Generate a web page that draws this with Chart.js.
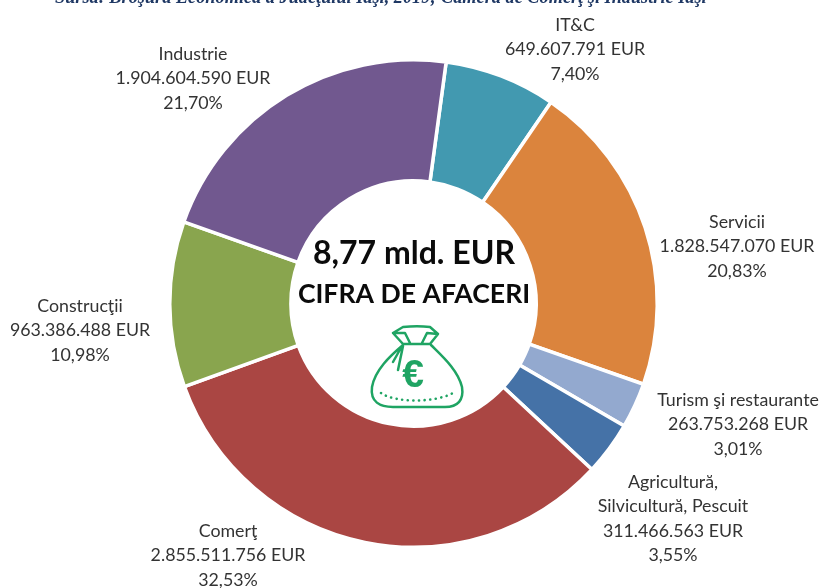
<!DOCTYPE html>
<html><head><meta charset="utf-8">
<style>html,body{margin:0;padding:0;background:#fff;overflow:hidden}canvas{display:block;filter:blur(0.5px)}</style>
<script src="https://cdn.jsdelivr.net/npm/chart.js@4"></script>
</head><body><canvas id="c" width="823" height="588"></canvas>
<script>
const categories = ["IT&C","Servicii","Turism şi restaurante","Agricultură, Silvicultură, Pescuit","Comerţ","Construcţii","Industrie"];
const values = [649607791,1828547070,263753268,311466563,2855511756,963386488,1904604590];
const amounts = ["649.607.791 EUR","1.828.547.070 EUR","263.753.268 EUR","311.466.563 EUR","2.855.511.756 EUR","963.386.488 EUR","1.904.604.590 EUR"];
const percents = ["7,40%","20,83%","3,01%","3,55%","32,53%","10,98%","21,70%"];
const colors = ["#4299B0","#DB843D","#93A9CF","#4572A7","#AA4643","#89A54E","#71588F"];
const labelLines = [["IT&C"],["Servicii"],["Turism şi restaurante"],["Agricultură,","Silvicultură, Pescuit"],["Comerţ"],["Construcţii"],["Industrie"]];
const labelAnchors = [[575,25],[737,222],[738,400],[673,482],[228,531],[80,306],[193,54]];
const sourceText = "Sursa: Broşura Economică a Judeţului Iaşi, 2019; Camera de Comerţ şi Industrie Iaşi";
const centerTitle = "8,77 mld. EUR";
const centerSubtitle = "CIFRA DE AFACERI";

const overlay = {
  id:'overlay',
  afterDraw(chart){
    const g = chart.ctx;
    g.save();
    g.textAlign='center'; g.textBaseline='middle';
    g.fillStyle='#333';
    g.font='17.8px Lato, Carlito, sans-serif';
    categories.forEach((_,i)=>{
      const lines=[...labelLines[i],amounts[i],percents[i]];
      const [x,y]=labelAnchors[i];
      lines.forEach((t,k)=>g.fillText(t,x,y+k*24.4));
    });
    g.fillStyle='#0b0b0b';
    g.font='bold 32px Lato, Carlito, sans-serif';
    g.fillText(centerTitle,414,254);
    g.font='bold 26.6px Lato, Carlito, sans-serif';
    g.fillText(centerSubtitle,414,294);
    g.fillStyle='#1F3864';
    g.font='italic bold 18.3px "Liberation Serif", serif';
    g.textAlign='left'; g.textBaseline='alphabetic';
    g.fillText(sourceText,55,3);
    // money bag icon
    g.translate(290,220);
    g.strokeStyle='#1FA463'; g.fillStyle='#1FA463'; g.lineWidth=2.5; g.lineJoin='round'; g.lineCap='round';
    g.beginPath();
    g.moveTo(103,113); g.lineTo(113,107); g.bezierCurveTo(122,106,132,106,140,107);
    g.lineTo(148,114); g.lineTo(140,124); g.lineTo(113,124); g.closePath();
    g.moveTo(103,113); g.lineTo(115,113); g.lineTo(120,123);
    g.moveTo(148,114); g.lineTo(137,113); g.lineTo(132,123);
    g.moveTo(113,125);
    g.bezierCurveTo(100,136,85,150,82,167);
    g.bezierCurveTo(80,182,90,187,103,187);
    g.lineTo(155,187);
    g.bezierCurveTo(168,187,174,180,172,167);
    g.bezierCurveTo(168,150,152,136,141,125);
    g.moveTo(112,126); g.lineTo(103,142);
    g.moveTo(113,126); g.lineTo(108,150);
    g.stroke();
    g.setLineDash([0.1,5.5]); g.lineWidth=2.6;
    g.beginPath(); g.moveTo(91,173); g.bezierCurveTo(105,183,145,183,163,173); g.stroke(); g.setLineDash([]);
    g.font='bold 39px "Liberation Sans", sans-serif'; g.textAlign='center'; g.textBaseline='middle';
    g.fillText('€',123,156);
    g.restore();
  }
};

new Chart(document.getElementById('c'),{
  type:'doughnut',
  data:{labels:categories,datasets:[{data:values,backgroundColor:colors,borderColor:'#fff',borderWidth:3.5}]},
  options:{
    responsive:false,animation:false,
    rotation:7.7,cutout:'50.3%',
    layout:{padding:{left:168,right:164,top:58,bottom:39}},
    plugins:{legend:{display:false},tooltip:{enabled:false}}
  },
  plugins:[overlay]
});
</script></body></html>
